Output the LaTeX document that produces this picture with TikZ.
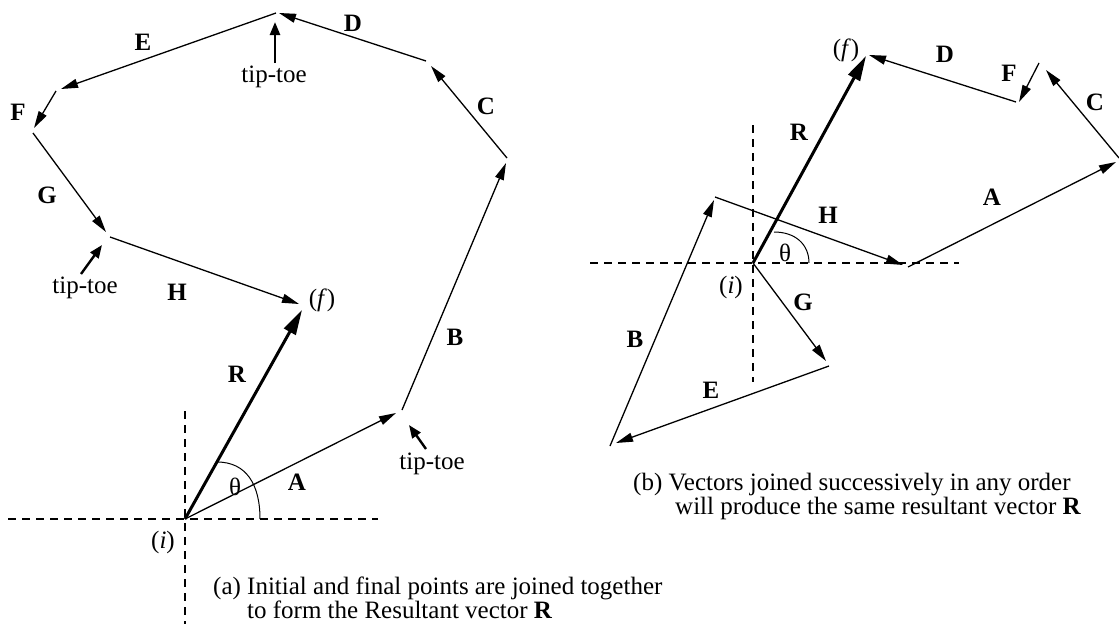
\documentclass[tikz,border=0pt]{standalone}
\usepackage{fontspec}
\setmainfont{Liberation Serif}
\usetikzlibrary{arrows.meta}
\begin{document}
\begin{tikzpicture}[x=1pt,y=-1pt,
  every node/.style={font=\fontsize{25}{23}\selectfont, inner sep=0pt},
  vec/.style={line width=1.3pt, -{Triangle[length=17pt,width=9pt]}},
  res/.style={line width=3pt, -{Triangle[length=25pt,width=13pt]}},
  tiparrow/.style={line width=2.4pt, -{Triangle[length=13pt,width=10pt]}},
  axisline/.style={line width=1.6pt, dash pattern=on 8pt off 6pt},
  lbl/.style={font=\fontsize{25}{23}\selectfont\bfseries},
  caption/.style={anchor=base west, align=left, font=\fontsize{25}{22.5}\selectfont},
  angarc/.style={line width=1pt}]
\useasboundingbox (0,0) rectangle (1119,624);

% ---------------- panel (a) ----------------
\coordinate (Oa) at (185,519);
\coordinate (Aa1) at (396,413);
\coordinate (Ba0) at (402,410); \coordinate (Ba1) at (506,163);
\coordinate (Ca0) at (507,158); \coordinate (Ca1) at (431,66);
\coordinate (Da0) at (426,61);  \coordinate (Da1) at (279,13);
\coordinate (Ea0) at (276,13);  \coordinate (Ea1) at (61,89);
\coordinate (Fa0) at (56,91);   \coordinate (Fa1) at (34,128);
\coordinate (Ga0) at (33,133);  \coordinate (Ga1) at (106,232);
\coordinate (Ha0) at (110,237); \coordinate (Ha1) at (299,304);
\coordinate (Ra1) at (302,310);
\coordinate (axL) at (8,519);   \coordinate (axR) at (378,519);
\coordinate (axT) at (185,411); \coordinate (axB) at (185,624);

\draw[axisline] (axL) -- (axR);
\draw[axisline] (axT) -- (axB);

\draw[vec] (Oa) -- (Aa1);
\draw[vec] (Ba0) -- (Ba1);
\draw[vec] (Ca0) -- (Ca1);
\draw[vec] (Da0) -- (Da1);
\draw[vec] (Ea0) -- (Ea1);
\draw[vec] (Fa0) -- (Fa1);
\draw[vec] (Ga0) -- (Ga1);
\draw[vec] (Ha0) -- (Ha1);
\draw[res] (Oa) -- (Ra1);
\draw[angarc] (260,519) .. controls (260,484) and (246,462) .. (217,462);

\node[lbl] (lA) at (297,482) {A};
\node[lbl] (lB) at (455,337) {B};
\node[lbl] (lC) at (486,106) {C};
\node[lbl] (lD) at (353,23) {D};
\node[lbl] (lE) at (143,42) {E};
\node[lbl] (lF) at (18,112) {F};
\node[lbl] (lG) at (47,195) {G};
\node[lbl] (lH) at (177,292) {H};
\node[lbl] (lR) at (237,374) {R};
\node (tha) at (235,487) {θ};
\node (ia) at (163,542) {(\textit{i})};
\node (fa) at (322,300) {(\textit{f})};

\node (tt1) at (274,77) {tip-toe};
\node (tt2) at (85,288) {tip-toe};
\node (tt3) at (432,464) {tip-toe};
\coordinate (t1s) at (275,63);  \coordinate (t1e) at (275,22);
\coordinate (t2s) at (81,274);  \coordinate (t2e) at (102,245);
\coordinate (t3s) at (426,449); \coordinate (t3e) at (409,425);
\draw[tiparrow] (t1s) -- (t1e);
\draw[tiparrow] (t2s) -- (t2e);
\draw[tiparrow] (t3s) -- (t3e);

\node[caption] (capa) at (213,618) {(a) Initial and final points are joined together\\\hphantom{(a) }to form the Resultant vector \textbf{R}};

% ---------------- panel (b) ----------------
\coordinate (Ob) at (753,263);
\coordinate (Gb1) at (826,361);
\coordinate (Eb0) at (829,366); \coordinate (Eb1) at (616,443);
\coordinate (Bb0) at (610,446); \coordinate (Bb1) at (714,200);
\coordinate (Hb0) at (715,197); \coordinate (Hb1) at (903,265);
\coordinate (Ab0) at (908,267); \coordinate (Ab1) at (1116,162);
\coordinate (Cb0) at (1119,158); \coordinate (Cb1) at (1046,70);
\coordinate (Fb0) at (1039,63); \coordinate (Fb1) at (1019,102);
\coordinate (Db0) at (1016,102); \coordinate (Db1) at (869,55);
\coordinate (Rb1) at (866,56);
\coordinate (bxL) at (590,263); \coordinate (bxR) at (959,263);
\coordinate (bxT) at (753,125); \coordinate (bxB) at (753,382);

\draw[axisline] (bxL) -- (bxR);
\draw[axisline] (bxT) -- (bxB);

\draw[vec] (Ob) -- (Gb1);
\draw[vec] (Eb0) -- (Eb1);
\draw[vec] (Bb0) -- (Bb1);
\draw[vec] (Hb0) -- (Hb1);
\draw[vec] (Ab0) -- (Ab1);
\draw[vec] (Cb0) -- (Cb1);
\draw[vec] (Fb0) -- (Fb1);
\draw[vec] (Db0) -- (Db1);
\draw[res] (Ob) -- (Rb1);
\draw[angarc] (809,263) .. controls (809,244) and (795,232) .. (774,232);

\node[lbl] (mA) at (992,197) {A};
\node[lbl] (mB) at (635,339) {B};
\node[lbl] (mC) at (1095,102) {C};
\node[lbl] (mD) at (945,54) {D};
\node[lbl] (mE) at (711,390) {E};
\node[lbl] (mF) at (1009,73) {F};
\node[lbl] (mG) at (803,302) {G};
\node[lbl] (mH) at (828,215) {H};
\node[lbl] (mR) at (799,132) {R};
\node (thb) at (785,253) {θ};
\node (ib) at (731,287) {(\textit{i})};
\node (fb) at (846,50) {(\textit{f})};

\node[caption] (capb) at (633,514) {(b) Vectors joined successively in any order\\\hspace*{42pt}will produce the same resultant vector \textbf{R}};
\end{tikzpicture}
\end{document}
